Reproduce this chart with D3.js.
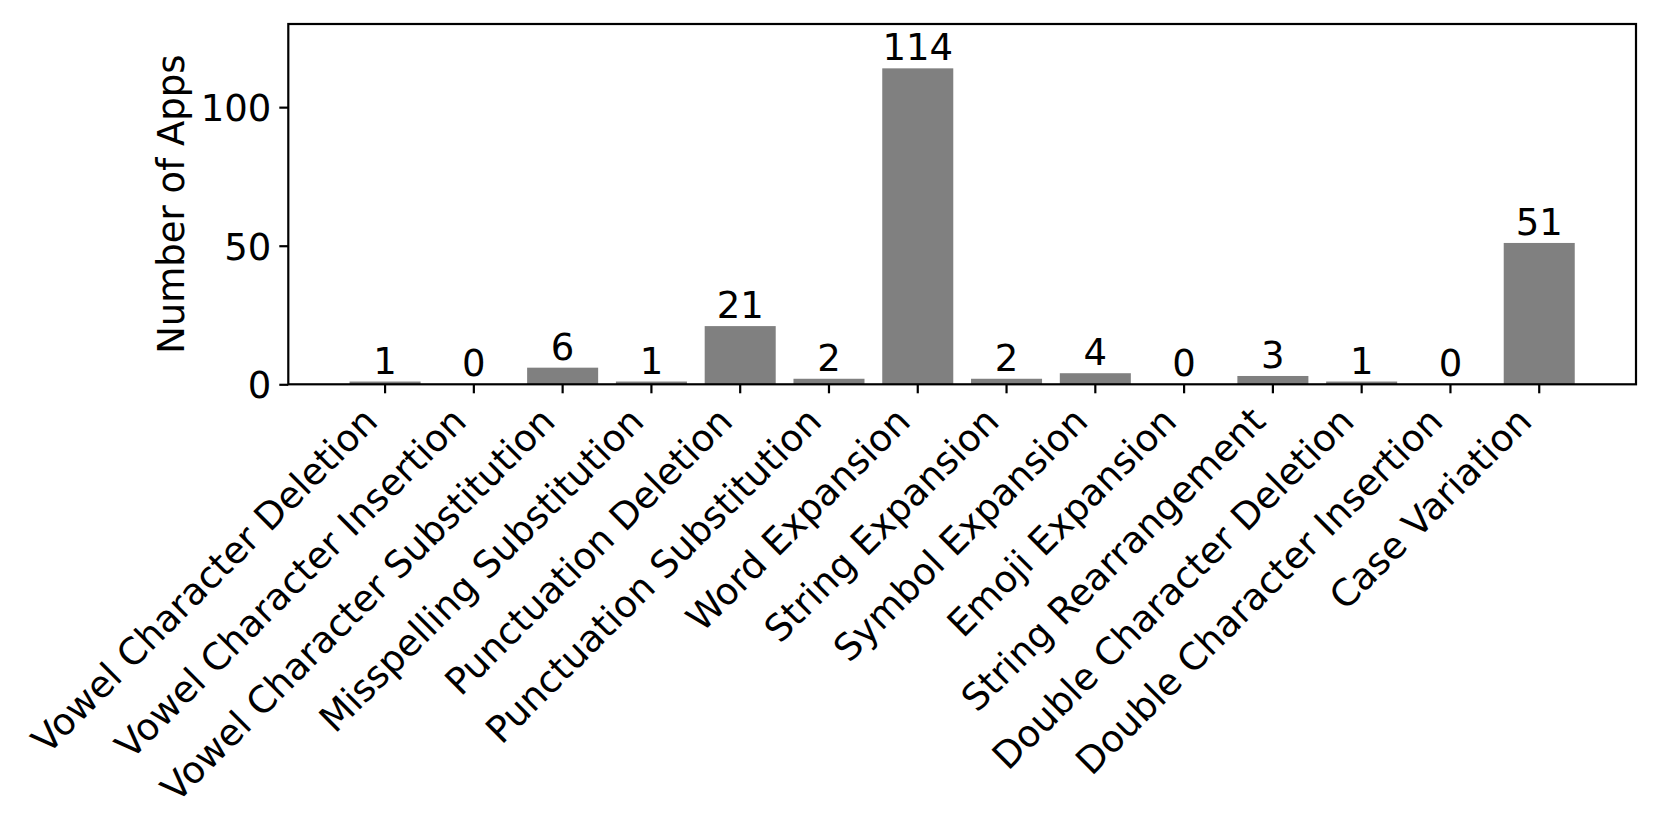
<!DOCTYPE html>
<html>
<head>
<meta charset="utf-8">
<script src="https://cdn.jsdelivr.net/npm/d3@7"></script>
<style>
  html, body { margin: 0; padding: 0; background: #fff; }
  svg { display: block; font-family: "DejaVu Sans", sans-serif; }
</style>
</head>
<body>
<svg id="chart" width="1661" height="830"></svg>
<script>
const categories = [
  "Vowel Character Deletion",
  "Vowel Character Insertion",
  "Vowel Character Substitution",
  "Misspelling Substitution",
  "Punctuation Deletion",
  "Punctuation Substitution",
  "Word Expansion",
  "String Expansion",
  "Symbol Expansion",
  "Emoji Expansion",
  "String Rearrangement",
  "Double Character Deletion",
  "Double Character Insertion",
  "Case Variation"
];
const values = [1, 0, 6, 1, 21, 2, 114, 2, 4, 0, 3, 1, 0, 51];
const yTicks = [0, 50, 100];
const yMax = 130;
const yLabel = "Number of Apps";

(function draw() {
  const svg = d3.select("#chart");
  const mLeft = 288.3, mRight = 1636, mTop = 24, mBottom = 384.3;
  const fontSize = 37;

  const x = d3.scaleBand()
    .domain(categories)
    .range([mLeft, mRight])
    .paddingInner(0.2)
    .paddingOuter(0.69);

  const y = d3.scaleLinear().domain([0, yMax]).range([mBottom, mTop]);

  // bars
  svg.append("g").selectAll("rect")
    .data(categories)
    .join("rect")
    .attr("x", d => x(d))
    .attr("width", x.bandwidth())
    .attr("y", (d, i) => y(values[i]))
    .attr("height", (d, i) => mBottom - y(values[i]))
    .attr("fill", "#808080");

  // bar labels
  svg.append("g").selectAll("text")
    .data(categories)
    .join("text")
    .attr("x", d => x(d) + x.bandwidth() / 2)
    .attr("y", (d, i) => y(values[i]) - 8)
    .attr("text-anchor", "middle")
    .attr("font-size", fontSize)
    .attr("fill", "#000")
    .text((d, i) => values[i]);

  // y axis
  const yAxis = d3.axisLeft(y).tickValues(yTicks).tickSize(9).tickPadding(8);
  const gy = svg.append("g").attr("transform", `translate(${mLeft},0)`).call(yAxis);
  gy.select(".domain").remove();
  gy.selectAll(".tick line").attr("stroke", "#000").attr("stroke-width", 2.2);
  gy.selectAll(".tick text")
    .attr("font-size", fontSize)
    .attr("font-family", "DejaVu Sans, sans-serif")
    .attr("fill", "#000")
    .attr("dy", "0.36em");

  // x axis
  const xAxis = d3.axisBottom(x).tickSize(9).tickFormat("");
  const gx = svg.append("g").attr("transform", `translate(0,${mBottom})`).call(xAxis);
  gx.select(".domain").remove();
  gx.selectAll(".tick line").attr("stroke", "#000").attr("stroke-width", 2.2);

  // rotated x labels
  svg.append("g").selectAll("text")
    .data(categories)
    .join("text")
    .attr("transform", d => {
      const tx = x(d) + x.bandwidth() / 2 - 5.5;
      const ty = mBottom + 39;
      return `translate(${tx},${ty}) rotate(-45)`;
    })
    .attr("text-anchor", "end")
    .attr("font-size", fontSize)
    .attr("fill", "#000")
    .text(d => d);

  // frame
  svg.append("rect")
    .attr("x", mLeft).attr("y", mTop)
    .attr("width", mRight - mLeft).attr("height", mBottom - mTop)
    .attr("fill", "none").attr("stroke", "#000").attr("stroke-width", 2.2);

  // y label
  svg.append("text")
    .attr("transform", `translate(184,${(mTop + mBottom) / 2}) rotate(-90)`)
    .attr("text-anchor", "middle")
    .attr("font-size", fontSize)
    .attr("fill", "#000")
    .text(yLabel);
})();
</script>
</body>
</html>
